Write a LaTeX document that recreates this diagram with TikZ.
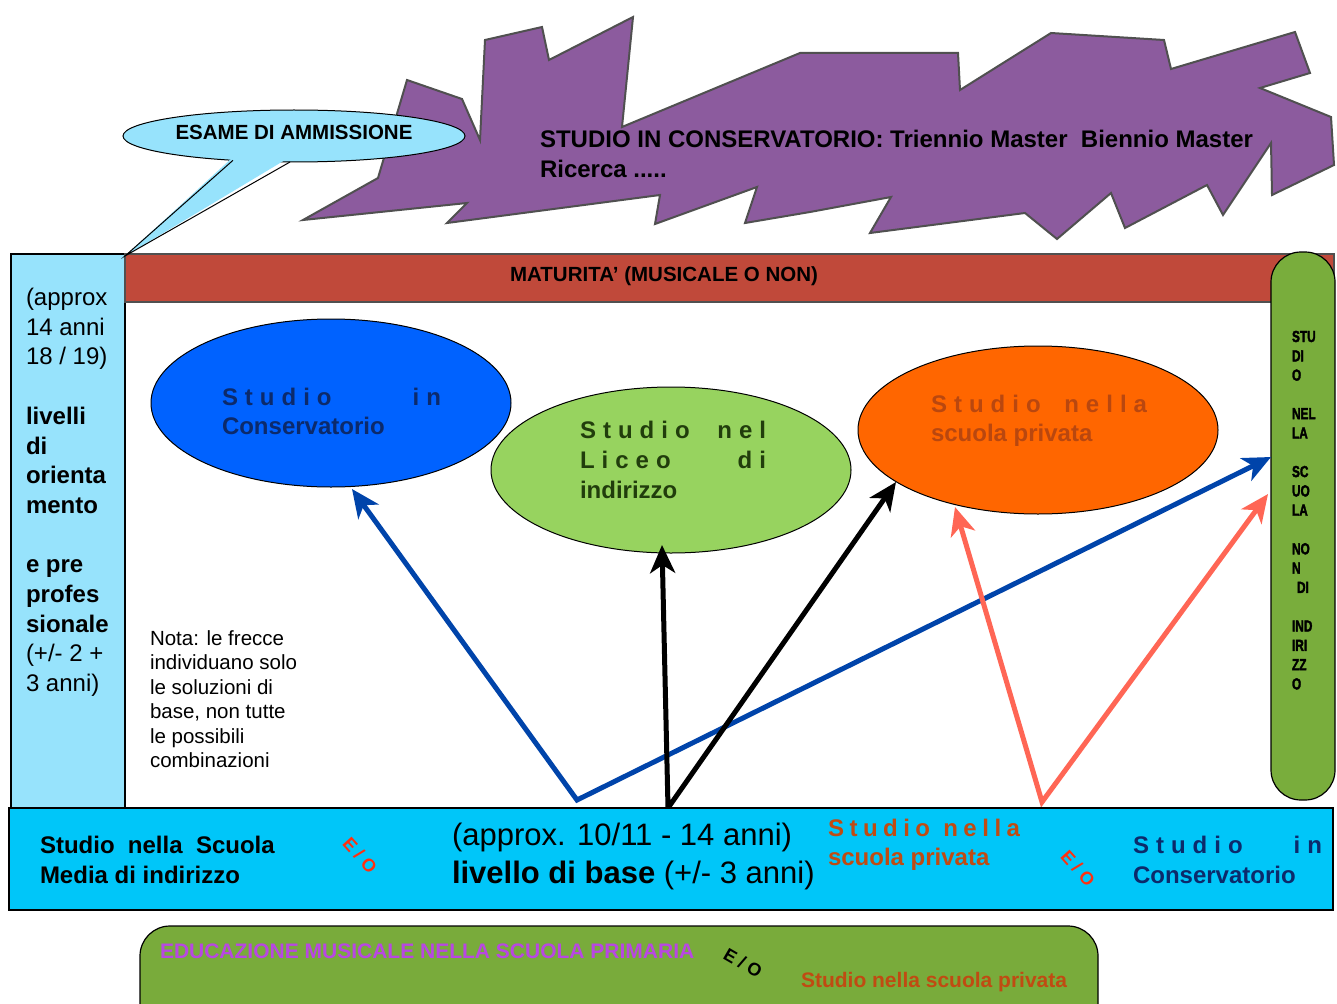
\documentclass[tikz,border=0pt]{standalone}
\usepackage{fontspec}
\usepackage{graphicx}
\setmainfont{Liberation Sans}
\newfontfamily\heavyfont[BoldFeatures={FakeBold=2.5}]{Liberation Sans}
\usetikzlibrary{arrows.meta,shapes.geometric}
\newdimen\spkern \spkern=7pt
\def\sptok#1{\ifx#1\relax\else#1\kern\spkern\expandafter\sptok\fi}
\newcommand\myfs[1]{\fontsize{#1}{#1}\selectfont}
\newcommand\mylines[2]{\vtop{\baselineskip=#1\relax\lineskiplimit=-100pt\relax #2}}
\newcommand\sx[1]{\scalebox{0.74}[1]{#1}}
\definecolor{purp}{HTML}{8C5B9E}
\definecolor{edgegray}{HTML}{505050}
\definecolor{lcyan}{HTML}{97E3FC}
\definecolor{matred}{HTML}{C0493A}
\definecolor{vgreen}{HTML}{79AD3C}
\definecolor{bgreen}{HTML}{79AB3B}
\definecolor{eblue}{HTML}{0062FF}
\definecolor{navy}{HTML}{0C2A6B}
\definecolor{egreen}{HTML}{97D35F}
\definecolor{dgreen}{HTML}{213D0C}
\definecolor{eorange}{HTML}{FF6600}
\definecolor{orgtxt}{HTML}{B9470F}
\definecolor{privtxt}{HTML}{C04B12}
\definecolor{bcyan}{HTML}{00C6F9}
\definecolor{eored}{HTML}{FF3010}
\definecolor{edupurple}{HTML}{B847E2}
\definecolor{arrblue}{HTML}{0044AA}
\definecolor{salmon}{HTML}{FF6655}
\begin{document}
\begin{tikzpicture}[x=1pt,y=-1pt,
  every node/.style={inner sep=0pt, outer sep=0pt},
  lbl/.style={anchor=base west},
  box/.style={draw=black, line width=1.2pt},
  eo/.style={font=\myfs{18}\bfseries},
  tp/.tip={Stealth[length=28pt,width=25pt,inset=8pt]},
  arr/.style={line width=5pt, tp-tp}]
\useasboundingbox (0,0) rectangle (1337,1003);
\fill[white] (0,0) rectangle (1337,1003);
\clip (0,0) rectangle (1337,1003);

% purple jagged shape
\draw[fill=purp, draw=edgegray, line width=2pt, line join=miter]
 (303,220) -- (467,203) -- (447,223) -- (660,195) -- (655,224) -- (757,187) -- (745,223) -- (810,212)
 -- (891,197) -- (870,233) -- (1025,213) -- (1057,239) -- (1111,193) -- (1125,228) -- (1207,185)
 -- (1223,215) -- (1271,143) -- (1272,195) -- (1334,165) -- (1331,117) -- (1260,88) -- (1310,73)
 -- (1295,32) -- (1171,69) -- (1164,40) -- (1051,33) -- (960,90) -- (958,53) -- (800,53)
 -- (622,127) -- (633,17) -- (549,60) -- (542,27) -- (485,40) -- (480,140) -- (462,99)
 -- (407,80) -- (378,178) -- cycle;
\node[lbl, font=\myfs{24}\bfseries] (constxt) at (540,147.6)
 {\mylines{29.5pt}{\hbox{STUDIO IN CONSERVATORIO: Triennio Master\ \ Biennio Master}\hbox{Ricerca .....}}};

% left column and red bar
\node[box, fill=lcyan, minimum width=114pt, minimum height=554pt, anchor=north west] (leftcol) at (11,254) {};
\draw[draw=edgegray, line width=1.2pt, fill=matred] (125,254) rectangle (1334,302);
\node[font=\myfs{20.5}\bfseries, anchor=base] (maturtxt) at (664,281.3) {MATURITA’ (MUSICALE O NON)};
\node[lbl, font=\myfs{24}] (lefttxt) at (26,305.5)
 {\mylines{29.7pt}{\hbox{(approx}\hbox{14 anni}\hbox{18 / 19)}\hbox{}\hbox{\bfseries livelli}\hbox{\bfseries di}\hbox{\bfseries orienta}\hbox{\bfseries mento}\hbox{}\hbox{\bfseries e pre}\hbox{\bfseries profes}\hbox{\bfseries sionale}\hbox{(+/- 2 +}\hbox{3 anni)}}};

% speech bubble
\node[ellipse, draw=black, line width=1pt, fill=lcyan, minimum width=342pt, minimum height=52pt] (bubble) at (294,136) {};
\fill[lcyan] (233,157) -- (125,256) -- (290,157) -- cycle;
\draw[line width=1pt] (233,160.3) -- (125,256) -- (290,162);
\node[font=\myfs{20.5}\bfseries] (esame) at (294,132) {ESAME DI AMMISSIONE};

% right green bar
\node[box, fill=vgreen, rounded corners=30pt, minimum width=64pt, minimum height=548pt, anchor=north west] (sidebar) at (1271,252) {};
\node[lbl, font=\myfs{16}\heavyfont\bfseries] (sidetxt) at (1292,342)
 {\mylines{19.3pt}{\hbox{\sx{STU}}\hbox{\sx{DI}}\hbox{\sx{O}}\hbox{}\hbox{\sx{NEL}}\hbox{\sx{LA}}\hbox{}\hbox{\sx{SC}}\hbox{\sx{UO}}\hbox{\sx{LA}}\hbox{}\hbox{\sx{NO}}\hbox{\sx{N}}\hbox{\hspace{5pt}\sx{DI}}\hbox{}\hbox{\sx{IND}}\hbox{\sx{IRI}}\hbox{\sx{ZZ}}\hbox{\sx{O}}}};

% ellipses
\node[ellipse, draw=black, line width=1pt, fill=eblue, minimum width=360pt, minimum height=168pt] (conserv) at (331,403) {};
\node[ellipse, draw=black, line width=1pt, fill=egreen, minimum width=360pt, minimum height=166pt] (liceo) at (671,470) {};
\node[ellipse, draw=black, line width=1pt, fill=eorange, minimum width=360pt, minimum height=168pt] (privata) at (1038,430) {};
\node[lbl, font=\myfs{24}\bfseries, text=navy] (constx) at (222,405.6)
 {\mylines{29pt}{\hbox to 219pt{\sptok Studio\relax\hfill\sptok in\relax\kern-\spkern}\hbox{Conservatorio}}};
\node[lbl, font=\myfs{24}\bfseries, text=dgreen] (liceotx) at (580,438.6)
 {\mylines{30pt}{\hbox to 186pt{\sptok Studio\relax\hfill\sptok nel\relax\kern-\spkern}\hbox to 186pt{\sptok Liceo\relax\hfill\sptok di\relax\kern-\spkern}\hbox{indirizzo}}};
\node[lbl, font=\myfs{24}\bfseries, text=orgtxt] (privtx) at (931,412.6)
 {\mylines{29pt}{\hbox to 216pt{\sptok Studio\relax\hfill\sptok nella\relax\kern-\spkern}\hbox{scuola privata}}};

% note
\node[lbl, font=\myfs{20.5}] (nota) at (150,645.4)
 {\mylines{24.4pt}{\hbox{Nota: le frecce}\hbox{individuano solo}\hbox{le soluzioni di}\hbox{base, non tutte}\hbox{le possibili}\hbox{combinazioni}}};

% arrows
\coordinate (bs) at (577,800);
\coordinate (bt1) at (352,489);
\coordinate (bt2) at (1271,457);
\coordinate (ks) at (668,808);
\coordinate (kt1) at (662,545);
\coordinate (kt2) at (896,482);
\coordinate (ss) at (1042,802);
\coordinate (st1) at (955,507);
\coordinate (st2) at (1268,494);
\draw[arr, draw=arrblue] (bt1) -- (bs) -- (bt2);
\draw[arr, draw=black] (kt1) -- (ks) -- (kt2);
\draw[arr, draw=salmon] (st1) -- (ss) -- (st2);

% bottom bar
\node[box, fill=bcyan, minimum width=1324pt, minimum height=102pt, anchor=north west] (basebar) at (9,808) {};
\node[lbl, font=\myfs{24}\bfseries] (mediatx) at (40,853.6)
 {\mylines{30pt}{\hbox{Studio\ \ nella\ \ Scuola}\hbox{Media di indirizzo}}};
\node[eo, text=eored, rotate=-48] (eo1) at (360,855) {E\kern5pt/\kern5pt O};
\node[lbl, font=\myfs{31}] (base1) at (452,845) {(approx. 10/11 - 14 anni)};
\node[lbl, font=\myfs{31}] (base2) at (452,883) {\textbf{livello di base} (+/- 3 anni)};
\node[lbl, font=\myfs{24}\bfseries, text=privtxt] (privb) at (828,836.6)
 {\mylines{29pt}{\hbox to 192pt{\spkern=5.5pt\sptok Studio\relax\hfill\sptok nella\relax\kern-\spkern}\hbox{scuola privata}}};
\node[eo, text=eored, rotate=-48] (eo2) at (1078,868) {E\kern5pt/\kern5pt O};
\node[lbl, font=\myfs{24}\bfseries, text=navy] (consb) at (1133,853.6)
 {\mylines{30pt}{\hbox to 189pt{\sptok Studio\relax\hfill\sptok in\relax\kern-\spkern}\hbox{Conservatorio}}};

% bottom green
\node[box, fill=bgreen, rounded corners=30pt, minimum width=958pt, minimum height=114pt, anchor=north west] (primaria) at (140,926) {};
\node[lbl, font=\myfs{21}\bfseries, text=edupurple] (edu) at (160,958.5) {EDUCAZIONE MUSICALE NELLA SCUOLA PRIMARIA};
\node[eo, rotate=-30] (eo3) at (743,963) {E\kern5pt/\kern5pt O};
\node[lbl, font=\myfs{21}\bfseries, text=privtxt] (privc) at (801,987.5) {Studio nella scuola privata};
\end{tikzpicture}
\end{document}
